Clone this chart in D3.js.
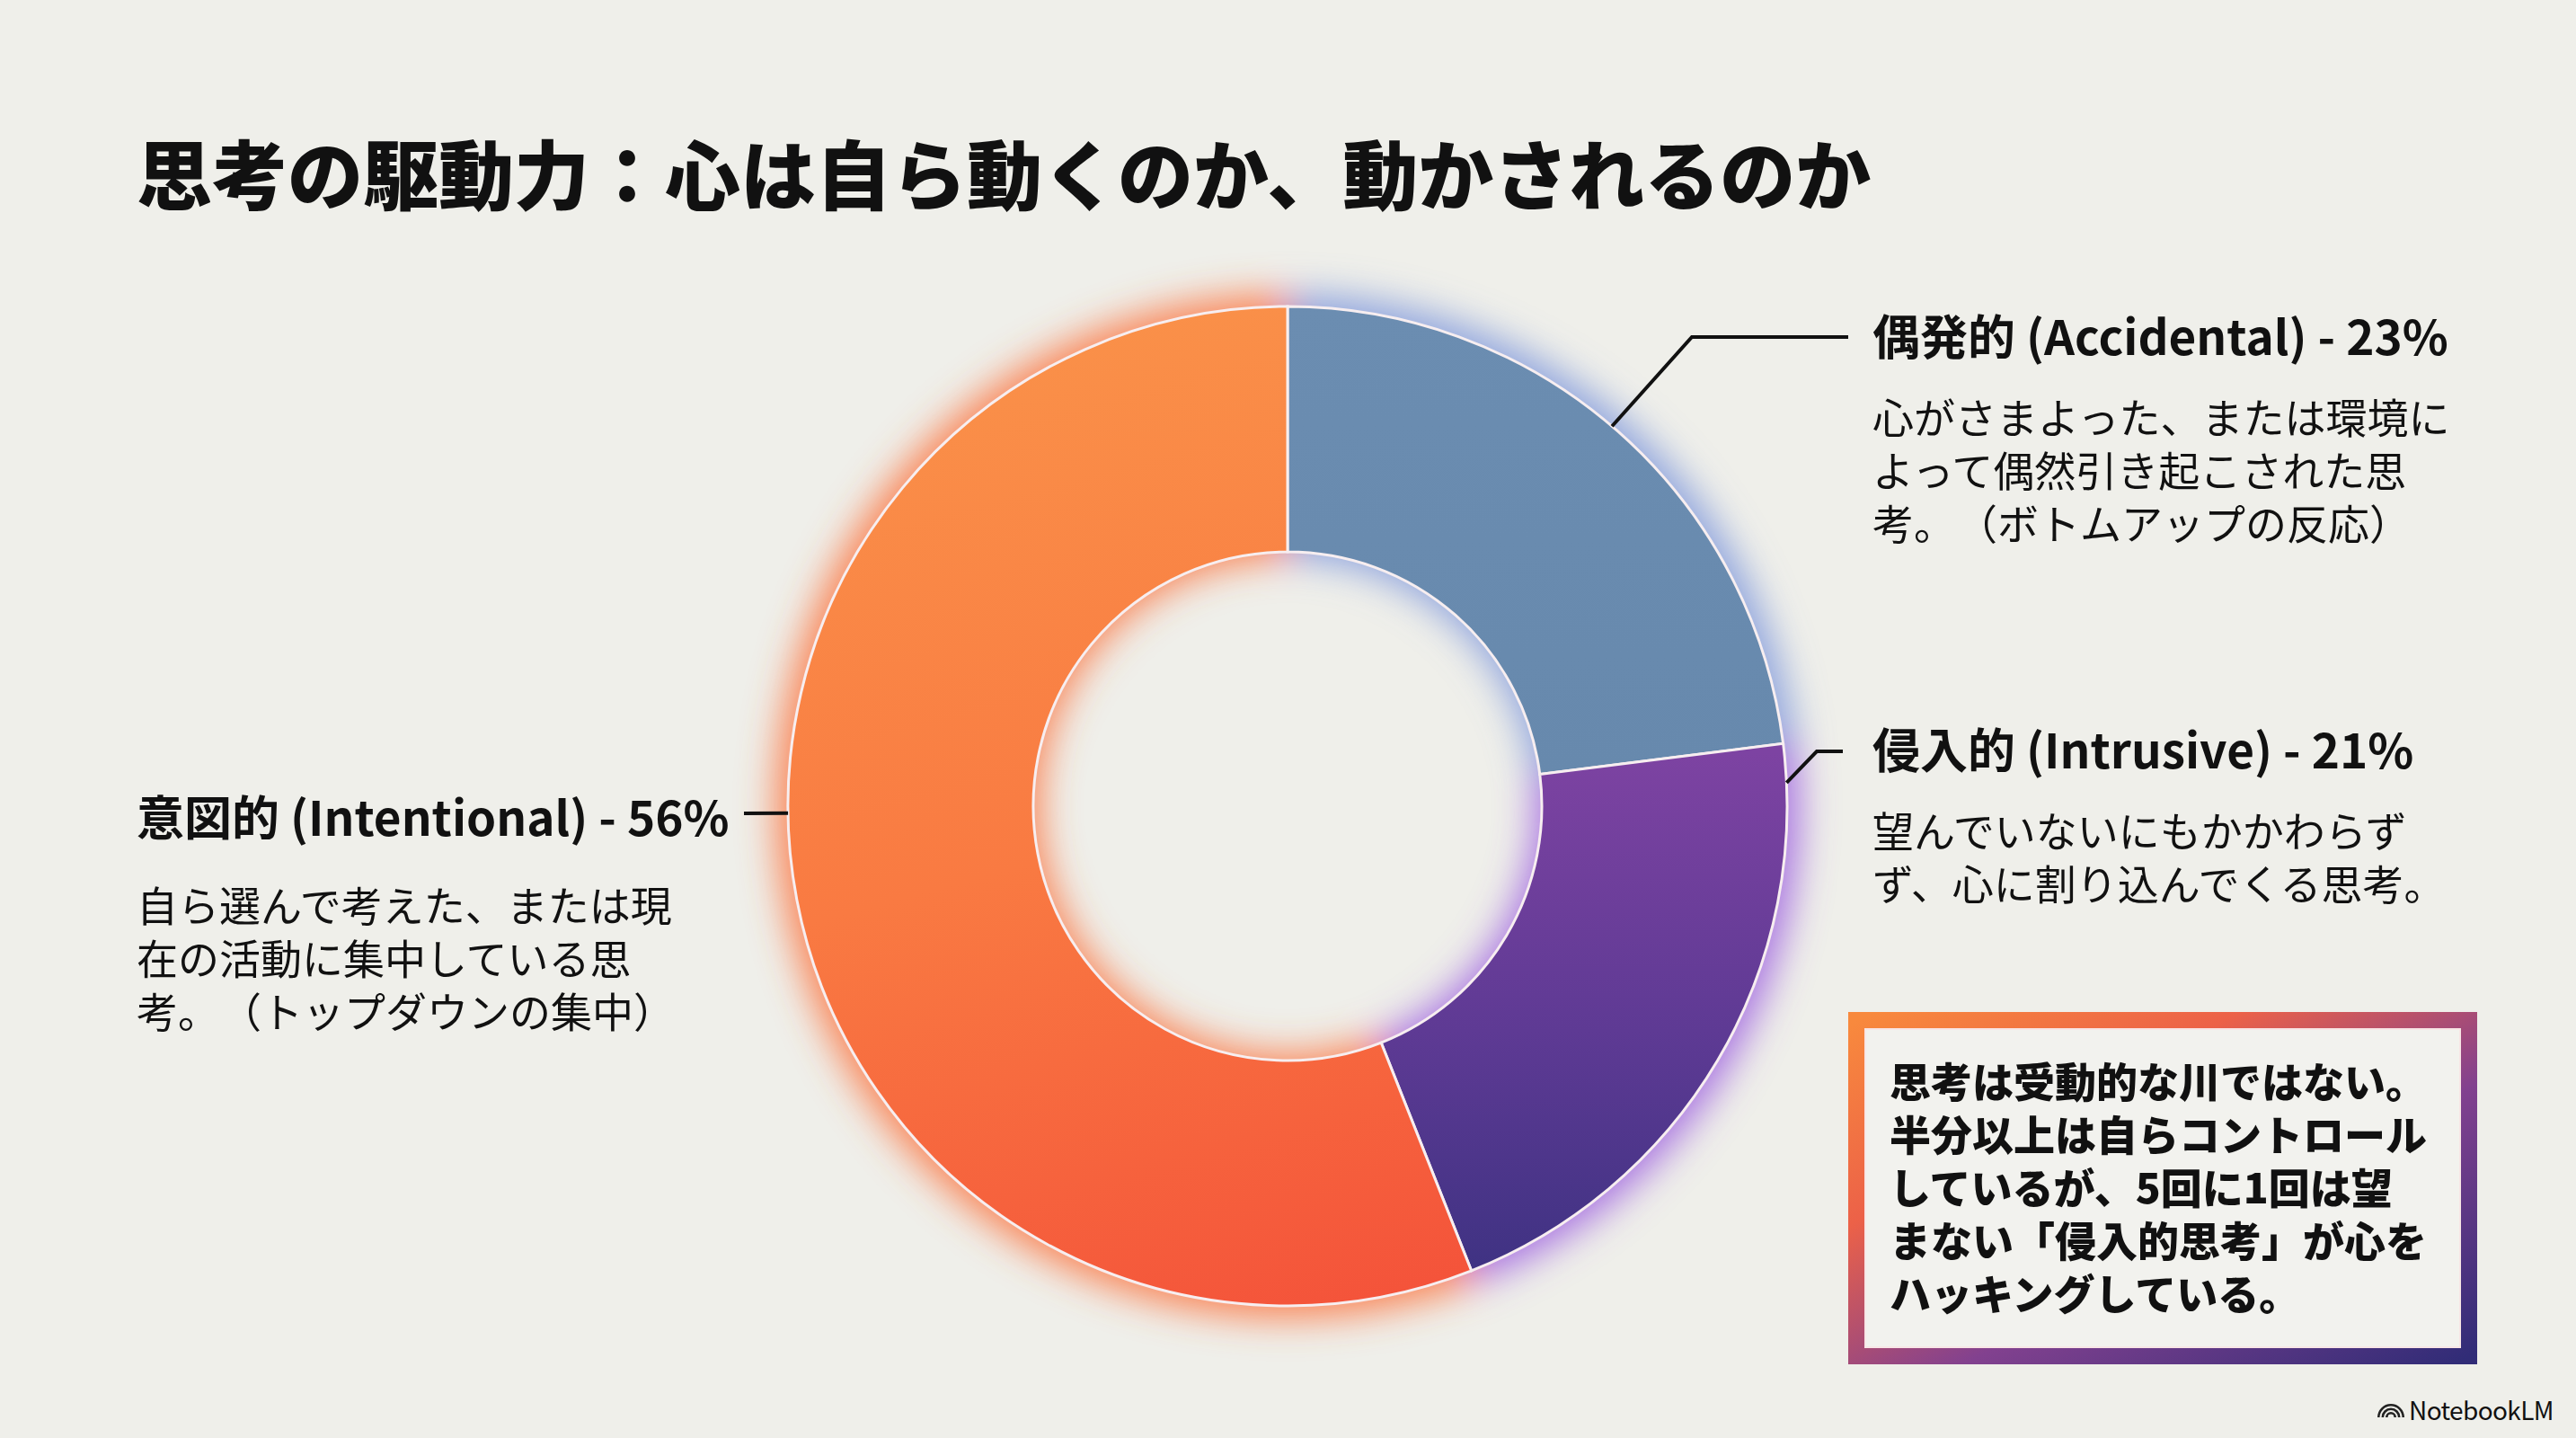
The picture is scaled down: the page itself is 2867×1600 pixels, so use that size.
<!DOCTYPE html>
<html lang="ja">
<head>
<meta charset="UTF-8">
<title>思考の駆動力</title>
<script src="https://cdn.jsdelivr.net/npm/d3@7"></script>
<style>
  body { margin: 0; background: #efefea; }
  svg { display: block; }
  text { font-family: "Noto Sans CJK JP", "Noto Sans", sans-serif; fill: #111; }
</style>
</head>
<body>
<script>
const width = 2867;
const height = 1600;

// data
const categories = ["偶発的 (Accidental)", "侵入的 (Intrusive)", "意図的 (Intentional)"];
const values = [23, 21, 56];
const descriptions = [
  ["心がさまよった、または環境に", "よって偶然引き起こされた思", "考。（ボトムアップの反応）"],
  ["望んでいないにもかかわらず", "ず、心に割り込んでくる思考。"],
  ["自ら選んで考えた、または現", "在の活動に集中している思", "考。（トップダウンの集中）"]
];
const title = "思考の駆動力：心は自ら動くのか、動かされるのか";
const noteLines = [
  "思考は受動的な川ではない。",
  "半分以上は自らコントロール",
  "しているが、5回に1回は望",
  "まない「侵入的思考」が心を",
  "ハッキングしている。"
];

const cx = 1433, cy = 897;
const outerR = 556, innerR = 283;

const svg = d3.select("body").append("svg")
    .attr("width", width)
    .attr("height", height);

const defs = svg.append("defs");

function linGrad(id, x1, y1, x2, y2, stops, units) {
  const g = defs.append("linearGradient").attr("id", id)
      .attr("x1", x1).attr("y1", y1).attr("x2", x2).attr("y2", y2);
  if (units) g.attr("gradientUnits", units);
  stops.forEach(s => g.append("stop").attr("offset", s[0]).attr("stop-color", s[1]));
}
// gradients are in the donut group's coordinates (origin at the centre)
linGrad("gAcc", 0, 0, 0, 1, [[0, "#6b8db1"], [1, "#6789ad"]]);
linGrad("gInt", 0, -60, 0, 560, [[0, "#7d43a2"], [0.5, "#5e3a94"], [1, "#3a3180"]], "userSpaceOnUse");
linGrad("gOwn", -200, -outerR, 100, outerR, [[0, "#fa9149"], [0.5, "#f97a42"], [1, "#f4533a"]], "userSpaceOnUse");
linGrad("gBox", 0, 0, 1, 1, [[0, "#f8893d"], [0.3, "#ec6148"], [0.6, "#82418f"], [1, "#312c77"]]);

defs.append("filter").attr("id", "glow")
    .attr("x", "-30%").attr("y", "-30%").attr("width", "160%").attr("height", "160%")
  .append("feGaussianBlur").attr("stdDeviation", 20);

const fills = ["url(#gAcc)", "url(#gInt)", "url(#gOwn)"];
const glowFills = ["#7f98dc", "#9d62e0", "#fb7440"];

// title
svg.append("text")
    .attr("x", 152).attr("y", 227)
    .attr("font-size", 84).attr("font-weight", 800)
    .text(title);

const pie = d3.pie().sort(null).value(d => d)(values);
const arc = d3.arc().innerRadius(innerR).outerRadius(outerR);
const glowArc = d3.arc().innerRadius(innerR - 8).outerRadius(outerR + 14);

const donut = svg.append("g").attr("transform", `translate(${cx},${cy})`);

donut.append("g").attr("filter", "url(#glow)")
  .selectAll("path").data(pie).join("path")
    .attr("d", glowArc)
    .attr("fill", (d, i) => glowFills[i])
    .attr("opacity", 0.85);

donut.append("g")
  .selectAll("path").data(pie).join("path")
    .attr("d", arc)
    .attr("fill", (d, i) => fills[i])
    .attr("stroke", "#f7eef0")
    .attr("stroke-width", 3);

// callouts: angle on the ring where the leader starts, elbow and label anchor
const callouts = [
  { a: 40.5, elbow: [1883, 375], end: [2057, 375], x: 2084, y: 395, bodyY: 482 },
  { a: 87.3, elbow: [2022, 836], end: [2051, 836], x: 2084, y: 855, bodyY: 942 },
  { a: 269.2, elbow: null, end: [828, 905], x: 152, y: 930, bodyY: 1025 }
];

function ringPoint(deg) {
  const t = deg * Math.PI / 180;
  return [cx + outerR * Math.sin(t), cy - outerR * Math.cos(t)];
}

const line = d3.line();
callouts.forEach((c, i) => {
  const pts = [ringPoint(c.a)];
  if (c.elbow) pts.push(c.elbow);
  pts.push(c.end);
  svg.append("path")
      .attr("d", line(pts))
      .attr("fill", "none")
      .attr("stroke", "#111")
      .attr("stroke-width", 4);

  svg.append("text")
      .attr("x", c.x).attr("y", c.y)
      .attr("font-size", 53).attr("font-weight", 700)
      .text(`${categories[i]} - ${values[i]}%`);

  descriptions[i].forEach((d, j) => {
    const t = svg.append("text")
        .attr("x", c.x)
        .attr("y", c.bodyY + j * 59)
        .attr("font-size", 46);
    // a little extra gap after the full stop, as in the original
    const parts = d.split("。（");
    if (parts.length === 2) {
      t.append("tspan").text(parts[0] + "。");
      t.append("tspan").attr("dx", 24).text("（" + parts[1]);
    } else {
      t.text(d);
    }
  });
});

// note box
const box = { x: 2066, y: 1135, w: 682, h: 374 };
svg.append("rect")
    .attr("x", box.x).attr("y", box.y)
    .attr("width", box.w).attr("height", box.h)
    .attr("fill", "#f2f2ee")
    .attr("stroke", "url(#gBox)")
    .attr("stroke-width", 18);
svg.append("rect")
    .attr("x", box.x + 10).attr("y", box.y + 10)
    .attr("width", box.w - 20).attr("height", box.h - 20)
    .attr("fill", "none")
    .attr("stroke", "#f8e6e6")
    .attr("stroke-width", 2);

noteLines.forEach((d, j) => {
  svg.append("text")
      .attr("x", 2103)
      .attr("y", 1221 + j * 59)
      .attr("font-size", 46).attr("font-weight", 800)
      .text(d);
});

// watermark
const wm = svg.append("g").attr("transform", "translate(2646,1573)");
[15, 10.5, 6].forEach(r => {
  wm.append("path")
      .attr("d", d3.arc().innerRadius(r - 2.6).outerRadius(r).startAngle(-Math.PI / 2).endAngle(Math.PI / 2)())
      .attr("transform", "translate(15,4)")
      .attr("fill", "#222");
});
svg.append("text")
    .attr("x", 2681).attr("y", 1580)
    .attr("font-family", "Roboto, sans-serif")
    .attr("font-size", 28)
    .attr("letter-spacing", -0.6)
    .text("NotebookLM");
</script>
</body>
</html>
